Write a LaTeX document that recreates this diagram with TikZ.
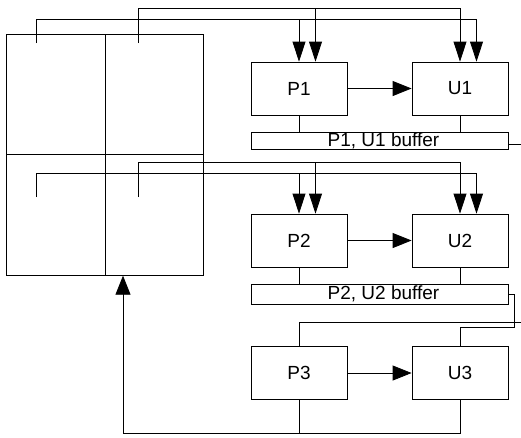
\documentclass[tikz,border=0pt]{standalone}
\usepackage{fontspec}
\setmainfont{Liberation Sans}
\usetikzlibrary{arrows.meta}

\tikzset{
  unit/.style={draw, minimum width=96pt, minimum height=53pt, inner sep=0pt,
               font=\fontsize{19}{22}\selectfont},
  bufbox/.style={draw, minimum width=257pt, inner sep=0pt,
                 font=\fontsize{19}{21}\selectfont},
  cell/.style={draw, minimum width=98.5pt, minimum height=120.5pt, inner sep=0pt},
  feed/.style={-{Triangle[length=20pt,width=13pt]}},
  flow/.style={-{Triangle[length=19pt,width=15pt]}}
}

\begin{document}
\begin{tikzpicture}[x=1pt, y=-1pt, line width=0.8pt]
      \useasboundingbox (0,0) rectangle (521,437);
      % shared store, four cells
      \node[cell] (cellA) at (55.75,94.5) {};
      \node[cell] (cellB) at (154.25,94.5) {};
      \node[cell] (cellC) at (55.75,215) {};
      \node[cell] (cellD) at (154.25,215) {};
      % pipeline stages
      \node[unit] (P1) at (299,88.5) {P1};
      \node[unit] (U1) at (460,88.5) {U1};
      \node[bufbox, minimum height=17pt] (buf1) at (379.5,141)
        {\hspace*{8pt}P1, U1 buffer};
      \node[unit] (P2) at (299,240.5) {P2};
      \node[unit] (U2) at (460,240.5) {U2};
      \node[bufbox, minimum height=20pt] (buf2) at (379.5,294)
        {\hspace*{8pt}P2, U2 buffer};
      \node[unit] (P3) at (299,373) {P3};
      \node[unit] (U3) at (460,373) {U3};
      % taps and bus levels
      \coordinate (tapA) at (36,43);
      \coordinate (tapB) at (138,43);
      \coordinate (tapC) at (36,197);
      \coordinate (tapD) at (138,197);
      \coordinate (busA) at (476.5,19);
      \coordinate (busB) at (460,8);
      \coordinate (busC) at (476.5,173);
      \coordinate (busD) at (460,162);
      % upper feeds
      \draw[feed] (tapB) |- (busB) -- (U1.north);
      \draw[feed] ([xshift=16.5pt]P1.north |- busB) -- ([xshift=16.5pt]P1.north);
      \draw[feed] (tapA) |- (busA) -- ([xshift=16.5pt]U1.north);
      \draw[feed] (P1.north |- busA) -- (P1.north);
      % lower feeds
      \draw[feed] (tapD) |- (busD) -- (U2.north);
      \draw[feed] ([xshift=16.5pt]P2.north |- busD) -- ([xshift=16.5pt]P2.north);
      \draw[feed] (tapC) |- (busC) -- ([xshift=16.5pt]U2.north);
      \draw[feed] (P2.north |- busC) -- (P2.north);
      % stage to stage
      \draw[flow] (P1) -- (U1);
      \draw[flow] (P2) -- (U2);
      \draw[flow] (P3) -- (U3);
      % buffers
      \draw (P1.south) -- (P1.south |- buf1.north);
      \draw (U1.south) -- (U1.south |- buf1.north);
      \draw (P2.south) -- (P2.south |- buf2.north);
      \draw (U2.south) -- (U2.south |- buf2.north);
      \coordinate (out1) at (521,144);
      \draw (out1 -| buf1.east) -- (out1);
      \coordinate (bend2) at (514.5,327);
      \draw (buf2.east) -| (bend2) -| (U3.north);
      \coordinate (out3) at (521,322);
      \draw (P3.north) |- (out3);
      % return to the store
      \coordinate (ret) at (123,433);
      \draw[flow] (U3.south) |- (ret) -- (ret |- cellD.south);
      \draw (P3.south) -- (P3.south |- ret);
    \end{tikzpicture}
\end{document}
